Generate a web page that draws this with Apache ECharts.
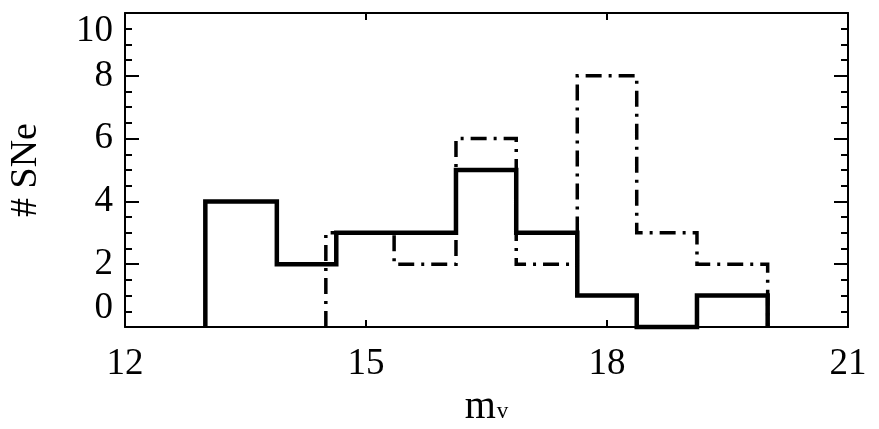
<!DOCTYPE html>
<html>
<head>
<meta charset="utf-8">
<script src="https://cdn.jsdelivr.net/npm/echarts@6/dist/echarts.min.js"></script>
<style>html,body{margin:0;padding:0;background:#fff}#c{width:879px;height:429px}</style>
</head>
<body>
<div id="c"></div>
<script>
// Solid histogram: bin edges and counts
var solidEdges = [13.0, 13.89, 14.63, 16.12, 16.87, 17.63, 18.37, 19.12, 20.0];
var solidCounts = [4, 2, 3, 5, 3, 1, 0, 1];
// Dash-dot histogram: bin edges and counts
var dashEdges = [14.5, 15.35, 16.12, 16.87, 17.63, 18.37, 19.12, 20.0];
var dashCounts = [3, 2, 6, 2, 8, 3, 2];
var xTicks = [12, 15, 18, 21];
var yTicks = [0, 2, 4, 6, 8, 10];

function stepPoints(edges, counts) {
  var pts = [[edges[0], 0]];
  for (var i = 0; i < counts.length; i++) {
    pts.push([edges[i], counts[i]]);
    pts.push([edges[i + 1], counts[i]]);
  }
  pts.push([edges[edges.length - 1], 0]);
  return pts;
}

var FONT = "'Liberation Serif', 'Times New Roman', Times, serif";
var chart = echarts.init(document.getElementById('c'), null, {renderer: 'canvas'});
var axisLineStyle = {color: '#000', width: 2};
chart.setOption({
  animation: false,
  backgroundColor: '#fff',
  grid: {left: 125, right: 31, top: 13, bottom: 102, containLabel: false, outerBoundsMode: 'none'},
  xAxis: [{
    type: 'value', min: xTicks[0], max: xTicks[xTicks.length - 1], interval: 3,
    position: 'bottom',
    axisLine: {show: true, onZero: false, lineStyle: axisLineStyle},
    axisTick: {show: true, inside: true, length: 7, lineStyle: {color: '#000', width: 2}},
    axisLabel: {show: true, margin: 19, color: '#000', fontFamily: FONT, fontSize: 37,
      formatter: function (v) { return xTicks.indexOf(v) >= 0 ? String(v) : ''; }},
    splitLine: {show: false},
    name: '{m|m}{s|v}', nameLocation: 'middle', nameGap: 60,
    nameTextStyle: {color: '#000', fontFamily: FONT, rich: {
      m: {fontFamily: FONT, fontSize: 40, color: '#000'},
      s: {fontFamily: FONT, fontSize: 23, color: '#000', padding: [9, 0, 0, 1]}
    }}
  }, {
    type: 'value', min: xTicks[0], max: xTicks[xTicks.length - 1], interval: 3,
    position: 'top',
    axisLine: {show: true, onZero: false, lineStyle: axisLineStyle},
    axisTick: {show: true, inside: true, length: 7, lineStyle: {color: '#000', width: 2}},
    axisLabel: {show: false}, splitLine: {show: false}
  }],
  yAxis: [{
    type: 'value', min: yTicks[0], max: yTicks[yTicks.length - 1], interval: 2,
    position: 'left',
    axisLine: {show: true, onZero: false, lineStyle: axisLineStyle},
    axisTick: {show: true, inside: true, length: 14, lineStyle: {color: '#000', width: 2}},
    minorTick: {show: true, splitNumber: 4, length: 7, lineStyle: {color: '#000', width: 2}},
    axisLabel: {show: true, margin: 12, color: '#000', fontFamily: FONT, fontSize: 37,
      verticalAlignMinLabel: 'bottom', verticalAlignMaxLabel: 'top'},
    splitLine: {show: false}, minorSplitLine: {show: false},
    name: '# SNe', nameLocation: 'middle', nameGap: 80,
    nameTextStyle: {color: '#000', fontFamily: FONT, fontSize: 38}
  }, {
    type: 'value', min: yTicks[0], max: yTicks[yTicks.length - 1], interval: 2,
    position: 'right',
    axisLine: {show: true, onZero: false, lineStyle: axisLineStyle},
    axisTick: {show: true, inside: true, length: 14, lineStyle: {color: '#000', width: 2}},
    minorTick: {show: true, splitNumber: 4, length: 7, lineStyle: {color: '#000', width: 2}},
    axisLabel: {show: false}, splitLine: {show: false}
  }],
  series: [{
    type: 'line', xAxisIndex: 0, yAxisIndex: 0, data: stepPoints(dashEdges, dashCounts),
    symbol: 'none', lineStyle: {color: '#000', width: 3.5, type: [16, 7, 3, 7], cap: 'butt', join: 'miter'},
    clip: false, z: 2
  }, {
    type: 'line', xAxisIndex: 0, yAxisIndex: 0, data: stepPoints(solidEdges, solidCounts),
    symbol: 'none', lineStyle: {color: '#000', width: 4.5, type: 'solid', join: 'miter'},
    clip: false, z: 3
  }]
});
</script>
</body>
</html>
